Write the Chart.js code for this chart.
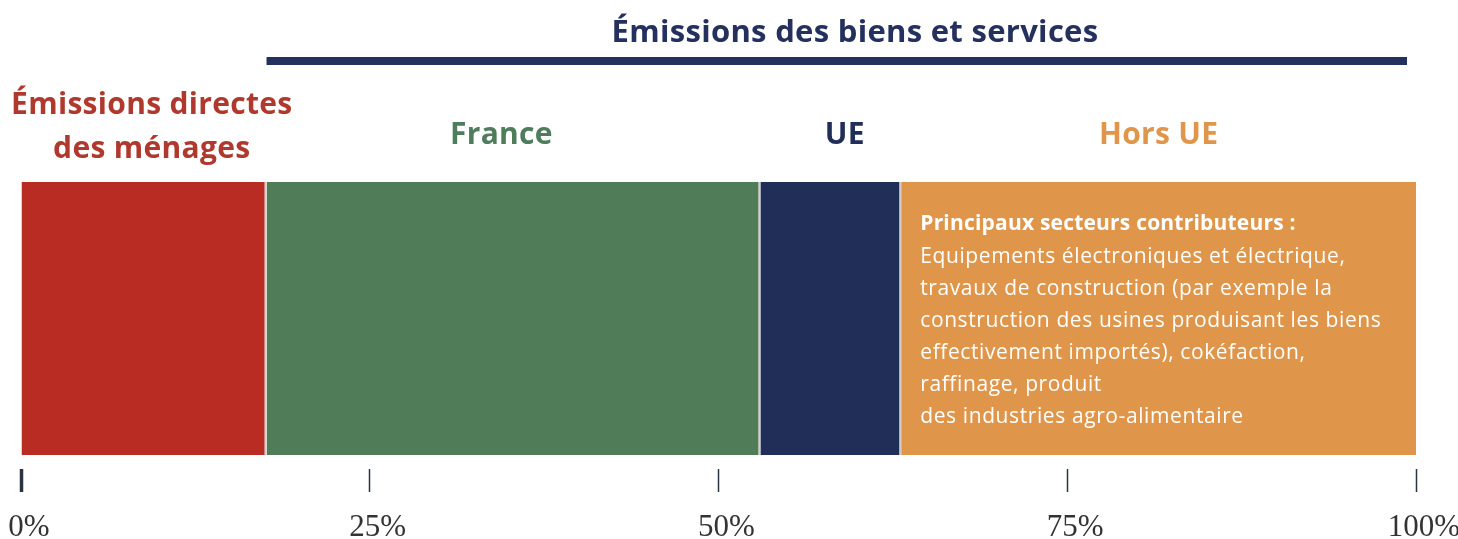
<!DOCTYPE html>
<html>
<head>
<meta charset="utf-8">
<script src="https://cdn.jsdelivr.net/npm/chart.js@4/dist/chart.umd.min.js"></script>
<style>
  html, body { margin: 0; padding: 0; background: #fff; }
  #wrap { width: 1458px; height: 539px; position: relative; }
</style>
</head>
<body>
<div id="wrap"><canvas id="chart"></canvas></div>
<script>
// Share of the carbon footprint (%)
const categories = ["Empreinte"]
const segmentNames = ["Émissions directes des ménages", "France", "UE", "Hors UE"]
const segmentValues = [17.6, 35.4, 10.1, 36.9]
const segmentColors = ["#b82c23", "#507c58", "#212e58", "#e0964a"]
const labelColors = ["#b0392e", "#4f7c5a", "#212e58", "#e0964a"]
const tickValues = [0, 25, 50, 75, 100]

const titleText = "Émissions des biens et services"
const noteTitle = "Principaux secteurs contributeurs :"
const noteLines = [
  "Equipements électroniques et électrique,",
  "travaux de construction (par exemple la",
  "construction des usines produisant les biens",
  "effectivement importés), cokéfaction,",
  "raffinage, produit",
  "des industries agro-alimentaire"
]

const SANS = "'Open Sans', Lato, sans-serif"

// Headers above the bar, the title rule, and the note inside "Hors UE"
const annotations = {
  id: "annotations",
  afterDraw(chart) {
    const { ctx } = chart
    const x = chart.scales.x
    const ends = []
    let acc = 0
    segmentValues.forEach(v => { ends.push([acc, acc + v]); acc += v })
    const px = v => x.getPixelForValue(v)

    ctx.save()
    ctx.textAlign = "center"
    ctx.textBaseline = "middle"

    // top title and its rule
    ctx.fillStyle = "#24305e"
    ctx.font = `bold 31px ${SANS}`
    ctx.letterSpacing = "0.3px"
    ctx.fillText(titleText, 855, 33)
    ctx.fillRect(px(ends[1][0]), 57, px(100) - 9 - px(ends[1][0]), 8)

    // segment headers
    ctx.font = `bold 30px ${SANS}`
    ctx.fillStyle = labelColors[0]
    const c0 = (px(ends[0][0]) + px(ends[0][1])) / 2 + 8
    ctx.fillText("Émissions directes", c0, 105)
    ctx.fillText("des ménages", c0, 149)
    const offsets = [0, -12, 14, 0]
    for (let i = 1; i < 4; i++) {
      ctx.fillStyle = labelColors[i]
      const c = (px(ends[i][0]) + px(ends[i][1])) / 2 + offsets[i]
      ctx.fillText(segmentNames[i], c, 135)
    }

    // note in the last segment
    ctx.textAlign = "left"
    ctx.fillStyle = "#ffffff"
    const nx = px(ends[3][0]) + 19
    ctx.font = `bold 21px ${SANS}`
    ctx.letterSpacing = "0.2px"
    ctx.fillText(noteTitle, nx, 224)
    ctx.font = `21px ${SANS}`
    ctx.letterSpacing = "0.6px"
    noteLines.forEach((t, i) => ctx.fillText(t, nx, 257 + i * 32))
    ctx.restore()
  }
}

new Chart(document.getElementById("chart"), {
  type: "bar",
  data: {
    labels: categories,
    datasets: segmentNames.map((name, i) => ({
      label: name,
      data: [segmentValues[i]],
      backgroundColor: segmentColors[i],
      borderColor: "rgba(205, 200, 195, 0.9)",
      borderWidth: i < 3 ? { right: 2, left: 0, top: 0, bottom: 0 } : 0,
      borderSkipped: false,
      categoryPercentage: 1,
      barPercentage: 0.907
    }))
  },
  options: {
    indexAxis: "y",
    responsive: true,
    maintainAspectRatio: false,
    animation: false,
    layout: { padding: { top: 168, left: 21, right: 42, bottom: 0 } },
    plugins: {
      legend: { display: false },
      tooltip: { enabled: false }
    },
    scales: {
      x: {
        stacked: true,
        min: 0,
        max: 100,
        afterBuildTicks: (axis) => { axis.ticks = tickValues.map(v => ({ value: v })) },
        afterFit: (axis) => {
          axis.paddingLeft = 0
          axis.paddingRight = 0
          axis.height = 70
        },
        border: { display: false },
        grid: {
          drawOnChartArea: false,
          drawTicks: true,
          tickLength: 23,
          tickColor: "#2a3440",
          tickWidth: (c) => c.index === 0 ? 3.5 : 1.5
        },
        ticks: {
          callback: (v) => `${v}%`,
          font: { family: "'Liberation Serif', serif", size: 31 },
          color: "#333333",
          padding: 17,
          labelOffset: 8,
          maxRotation: 0
        }
      },
      y: {
        stacked: true,
        display: false
      }
    }
  },
  plugins: [annotations]
})
</script>
</body>
</html>
